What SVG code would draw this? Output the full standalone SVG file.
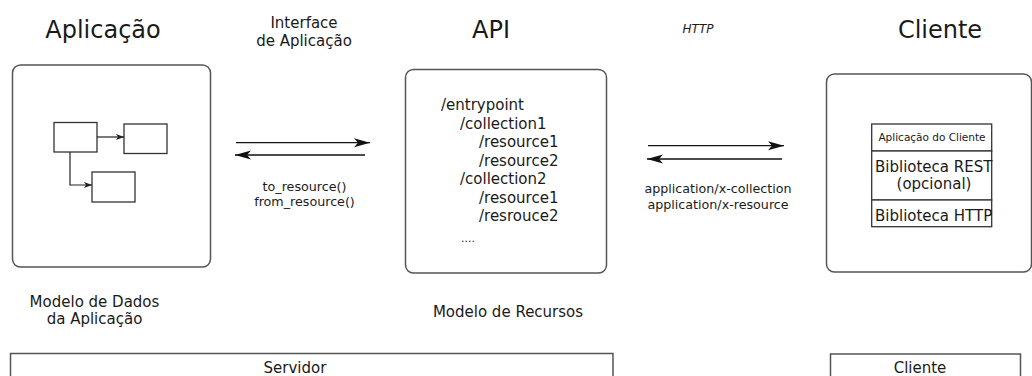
<svg xmlns="http://www.w3.org/2000/svg" width="1032" height="376" viewBox="0 0 1032 376">
<style>
text{font-family:"DejaVu Sans","Liberation Sans",sans-serif;fill:#1a1a1a}
.title{font-size:24px}
.mid{font-size:15px}
.sm{font-size:12.7px}
.cont{fill:none;stroke:#555;stroke-width:1.5}
.box{fill:#fff;stroke:#333;stroke-width:1.3}
.conn{fill:none;stroke:#111;stroke-width:1.3}
.small{fill:none;stroke:#222;stroke-width:1.2}
</style>
<defs>
<marker id="big" markerWidth="17" markerHeight="10" refX="16" refY="5" orient="auto" markerUnits="userSpaceOnUse">
<path d="M0,0.5 L16,5 L0,9.5 L4,5 z" fill="#111"/>
</marker>
<marker id="tiny" markerWidth="8" markerHeight="6" refX="8" refY="3" orient="auto" markerUnits="userSpaceOnUse">
<path d="M0,0 L8,3 L0,6 L2,3 z" fill="#222"/>
</marker>
</defs>

<g id="titles">
<text class="title" x="103" y="38" text-anchor="middle">Aplicação</text>
<text class="mid" x="304" y="28" text-anchor="middle">Interface</text>
<text class="mid" x="304" y="46" text-anchor="middle">de Aplicação</text>
<text class="title" x="491" y="38" text-anchor="middle">API</text>
<text x="698" y="33" text-anchor="middle" font-size="12" font-style="italic">HTTP</text>
<text class="title" x="940" y="38" text-anchor="middle" font-size="24.5">Cliente</text>
</g>

<g id="aplicacao">
<rect class="cont" x="12.5" y="65" width="198" height="202" rx="8"/>
<rect class="box" x="54" y="122.5" width="43" height="29.5"/>
<rect class="box" x="124" y="124" width="43" height="29.5"/>
<rect class="box" x="92" y="172" width="43" height="30"/>
<path class="small" d="M97,137 H124" marker-end="url(#tiny)"/>
<path class="small" d="M70,152 V185 H92" marker-end="url(#tiny)"/>
<text class="mid" x="94.5" y="306.5" text-anchor="middle">Modelo de Dados</text>
<text class="mid" x="94.5" y="324" text-anchor="middle">da Aplicação</text>
</g>

<g id="api">
<rect class="cont" x="405.5" y="69.5" width="201" height="203.5" rx="8"/>
<text class="mid" x="441" y="110">/entrypoint</text>
<text class="mid" x="460" y="128.5">/collection1</text>
<text class="mid" x="479" y="147">/resource1</text>
<text class="mid" x="479" y="165.5">/resource2</text>
<text class="mid" x="460" y="184">/collection2</text>
<text class="mid" x="479" y="202.5">/resource1</text>
<text class="mid" x="479" y="221">/resrouce2</text>
<text x="461" y="242" font-size="11">....</text>
<text class="mid" x="508" y="316.5" text-anchor="middle">Modelo de Recursos</text>
</g>

<g id="cliente">
<rect class="cont" x="826.5" y="74" width="205" height="198" rx="8"/>
<rect class="box" x="871.7" y="124" width="120" height="27"/>
<rect class="box" x="871.7" y="151" width="120" height="49"/>
<rect class="box" x="871.7" y="200" width="120" height="26.7"/>
<text x="932" y="140.5" text-anchor="middle" font-size="10.5">Aplicação do Cliente</text>
<text class="mid" x="875" y="171.5" font-size="15.3">Biblioteca REST</text>
<text class="mid" x="934" y="189" text-anchor="middle">(opcional)</text>
<text class="mid" x="875" y="220.5" font-size="15.3">Biblioteca HTTP</text>
</g>

<g id="servidor-bar">
<rect class="cont" x="10.5" y="353.5" width="602.5" height="30"/>
<text class="mid" x="295" y="373" text-anchor="middle">Servidor</text>
</g>

<g id="cliente-bar">
<rect class="cont" x="830.5" y="354" width="190" height="30"/>
<text class="mid" x="920" y="373" text-anchor="middle">Cliente</text>
</g>

<g id="connectors">
<path class="conn" d="M236,142.7 H370" marker-end="url(#big)"/>
<path class="conn" d="M365,155 H235" marker-end="url(#big)"/>
<path class="conn" d="M648,145.7 H784" marker-end="url(#big)"/>
<path class="conn" d="M782,159 H647" marker-end="url(#big)"/>
<text class="sm" x="304.5" y="191" text-anchor="middle">to_resource()</text>
<text class="sm" x="304.5" y="206" text-anchor="middle">from_resource()</text>
<text class="sm" x="718" y="193" text-anchor="middle">application/x-collection</text>
<text class="sm" x="718" y="209" text-anchor="middle">application/x-resource</text>
</g>
</svg>
